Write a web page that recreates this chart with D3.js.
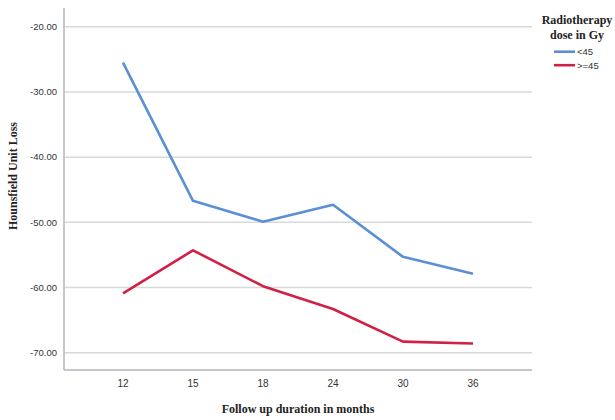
<!DOCTYPE html>
<html>
<head>
<meta charset="utf-8">
<script src="https://cdn.jsdelivr.net/npm/d3@7"></script>
<style>
  body { margin: 0; background: #fff; }
  svg { display: block; }
</style>
</head>
<body>
<svg id="chart"></svg>
<script>
const months = ["12", "15", "18", "24", "30", "36"];
const below45 = [-25.5, -46.7, -49.9, -47.3, -55.3, -57.9];
const above45 = [-60.9, -54.3, -59.8, -63.3, -68.3, -68.6];
const yTicks = [-20, -30, -40, -50, -60, -70];
const seriesNames = ["<45", ">=45"];
const seriesColors = ["#5b8fd5", "#d11f45"];

const W = 615, H = 420;
const svg = d3.select("#chart").attr("width", W).attr("height", H);

const plotL = 64, plotR = 532, plotT = 8, plotB = 370;

const x = d3.scalePoint().domain(months).range([plotL, plotR]).padding(0.843);
const y = d3.scaleLinear().domain([-72.66, -17.12]).range([plotB, plotT]);

// gridlines
svg.append("g").selectAll("line").data(yTicks).join("line")
  .attr("x1", plotL).attr("x2", plotR)
  .attr("y1", d => y(d)).attr("y2", d => y(d))
  .style("stroke", "#d9d9d9").style("stroke-width", 1.5);

// y tick labels
svg.append("g").selectAll("text").data(yTicks).join("text")
  .attr("x", 57).attr("y", d => y(d)).attr("dy", "0.35em")
  .attr("text-anchor", "end")
  .style("font-family", "'Liberation Sans', Arial, sans-serif")
  .style("font-size", "9.5px").style("fill", "#333")
  .text(d => d.toFixed(2));

// x tick labels
svg.append("g").selectAll("text").data(months).join("text")
  .attr("x", d => x(d)).attr("y", 383).attr("dy", "0.35em")
  .attr("text-anchor", "middle")
  .style("font-family", "'Liberation Sans', Arial, sans-serif")
  .style("font-size", "10px").style("fill", "#333")
  .text(d => d);

// axes lines
svg.append("line").attr("x1", plotL).attr("x2", plotL).attr("y1", plotT).attr("y2", plotB)
  .style("stroke", "#b4b4bc").style("stroke-width", 1.5);
svg.append("line").attr("x1", plotL).attr("x2", plotR).attr("y1", plotB).attr("y2", plotB)
  .style("stroke", "#b4b4bc").style("stroke-width", 1.5);

// lines
const line = d3.line().x((d, i) => x(months[i])).y(d => y(d));
[below45, above45].forEach((s, i) => {
  svg.append("path").attr("d", line(s))
    .attr("fill", "none").attr("stroke", seriesColors[i])
    .attr("stroke-width", 2.6).attr("stroke-linejoin", "round");
});

// axis titles
svg.append("text").attr("x", (plotL + plotR) / 2).attr("y", 409).attr("dy", "0.35em")
  .attr("text-anchor", "middle")
  .style("font-family", "'Liberation Serif', 'Times New Roman', serif")
  .style("font-weight", "bold").style("font-size", "12px").style("fill", "#222")
  .text("Follow up duration in months");

svg.append("text").attr("transform", "translate(13,176) rotate(-90)").attr("dy", "0.35em")
  .attr("text-anchor", "middle")
  .style("font-family", "'Liberation Serif', 'Times New Roman', serif")
  .style("font-weight", "bold").style("font-size", "12px").style("fill", "#222")
  .text("Hounsfield Unit Loss");

// legend
const lg = svg.append("g");
["Radiotherapy", "dose in Gy"].forEach((t, i) => {
  lg.append("text").attr("x", 577).attr("y", 20 + i * 15).attr("dy", "0.35em")
    .attr("text-anchor", "middle")
    .style("font-family", "'Liberation Serif', 'Times New Roman', serif")
    .style("font-weight", "bold").style("font-size", "12px").style("fill", "#222")
    .text(t);
});
seriesNames.forEach((n, i) => {
  const yy = 51.7 + i * 13.5;
  lg.append("line").attr("x1", 554).attr("x2", 575).attr("y1", yy).attr("y2", yy)
    .style("stroke", seriesColors[i]).style("stroke-width", 2.6);
  lg.append("text").attr("x", 577).attr("y", yy).attr("dy", "0.35em")
    .style("font-family", "'Liberation Sans', Arial, sans-serif")
    .style("font-size", "9.5px").style("fill", "#333")
    .text(n);
});
</script>
</body>
</html>
